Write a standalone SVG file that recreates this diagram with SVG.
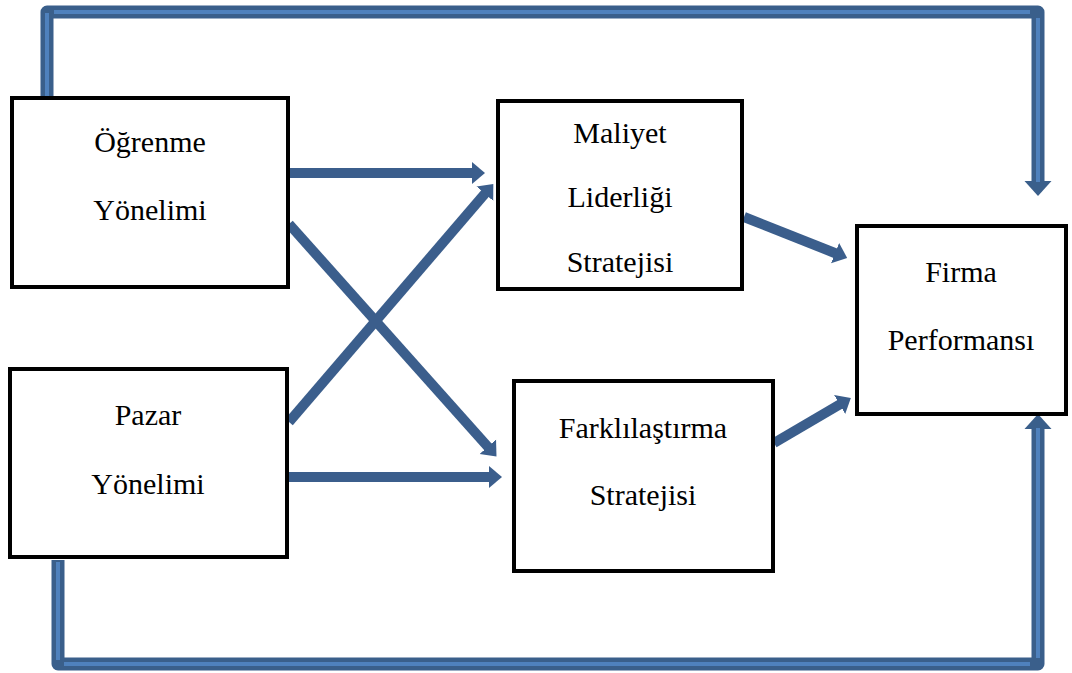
<svg xmlns="http://www.w3.org/2000/svg" width="1072" height="673" viewBox="0 0 1072 673">
<style>
.box{fill:#fff;stroke:#000;stroke-width:4}
.t{font-family:"Liberation Serif","Times New Roman",serif;font-size:30px;fill:#000;text-anchor:middle}
.arr{stroke:#3b5e8c;stroke-width:10;fill:none;marker-end:url(#ah)}
.fbo{stroke:#3a5f8b;stroke-width:13;fill:none;stroke-linejoin:round;stroke-linecap:round}
.fbi{stroke:#4f81bd;stroke-width:4;fill:none}
</style>
<defs>
<marker id="ah" markerUnits="userSpaceOnUse" markerWidth="14" markerHeight="24" viewBox="0 -12 14 24" refX="1" refY="0" orient="auto">
<path d="M0,-11 L13,0 L0,11 z" fill="#3b5e8c"/>
</marker>
<marker id="fh" markerUnits="userSpaceOnUse" markerWidth="16" markerHeight="30" viewBox="0 -15 16 30" refX="1" refY="0" orient="auto">
<path d="M0,-13.5 L15,0 L0,13.5 z" fill="#3a5f8b"/>
</marker>
</defs>
<g id="connectors">
<path class="fbo" d="M47,98 V12 H1038 V182" style="stroke-linecap:butt" marker-end="url(#fh)"/>
<path class="fbi" d="M47,96 V13 M54,12 H1030 M1038,18 V182"/>
<path class="fbo" d="M58,560 V664 H1038 V428" style="stroke-linecap:butt" marker-end="url(#fh)"/>
<path class="fbi" d="M58,562 V660 M64,664 H1030 M1038,658 V428"/>
<line class="arr" x1="287" y1="173" x2="473" y2="173"/>
<line class="arr" x1="287" y1="477" x2="490" y2="477"/>
<line class="arr" x1="289" y1="224" x2="488.5" y2="447.5"/>
<line class="arr" x1="289" y1="422" x2="485.5" y2="193"/>
<line class="arr" x1="744" y1="217" x2="836" y2="253.5"/>
<line class="arr" x1="774" y1="443" x2="840.5" y2="404"/>
</g>
<g id="ogrenme">
<rect class="box" x="12" y="98" width="276" height="189"/>
<text class="t" x="150" y="152">Öğrenme</text>
<text class="t" x="150" y="220">Yönelimi</text>
</g>
<g id="pazar">
<rect class="box" x="10" y="369" width="277" height="188"/>
<text class="t" x="148" y="425">Pazar</text>
<text class="t" x="148" y="494">Yönelimi</text>
</g>
<g id="maliyet">
<rect class="box" x="498" y="101" width="244" height="188"/>
<text class="t" x="620" y="143">Maliyet</text>
<text class="t" x="620" y="207">Liderliği</text>
<text class="t" x="620" y="272">Stratejisi</text>
</g>
<g id="farklilastirma">
<rect class="box" x="514" y="381" width="259" height="190"/>
<text class="t" x="643" y="438">Farklılaştırma</text>
<text class="t" x="643" y="505">Stratejisi</text>
</g>
<g id="firma">
<rect class="box" x="857" y="226" width="209" height="188"/>
<text class="t" x="961" y="282">Firma</text>
<text class="t" x="961" y="350">Performansı</text>
</g>
</svg>
